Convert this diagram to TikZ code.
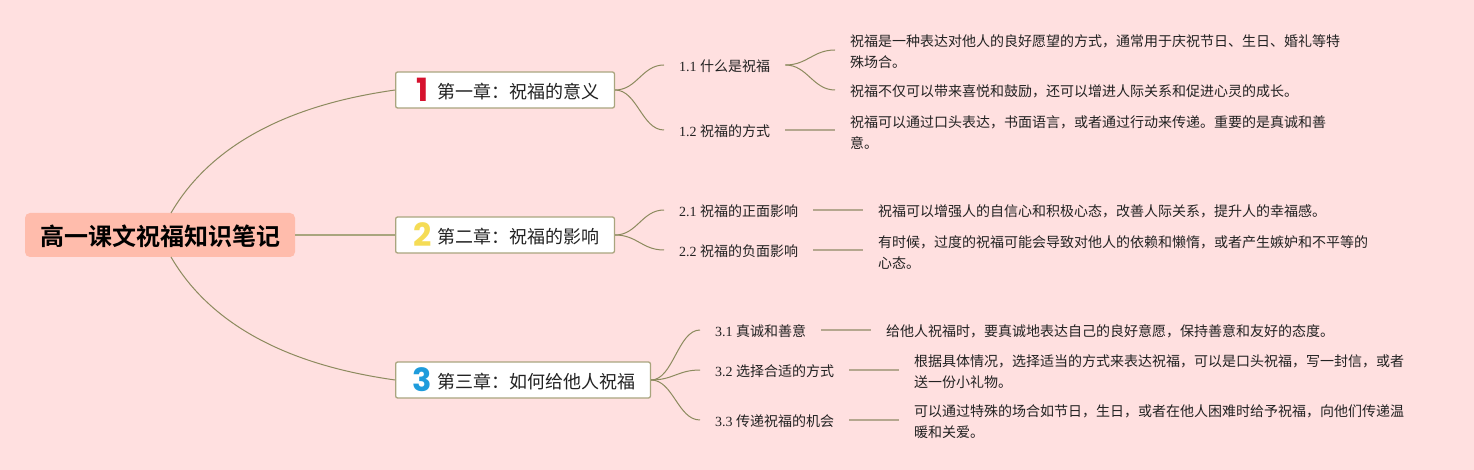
\documentclass[tikz,border=0pt]{standalone}
\usepackage{fontspec}
\setmainfont{Liberation Serif}
\newfontfamily\cjk{Noto Sans CJK SC}
\newfontfamily\cjkbold{Noto Sans CJK SC Bold}
\newfontfamily\numfont{Poppins Bold}

\definecolor{pagebg}{HTML}{FFE0E0}
\definecolor{rootfill}{HTML}{FFBCAC}
\definecolor{boxline}{HTML}{A9A57E}
\definecolor{curveline}{HTML}{8C8A5E}
\definecolor{flatline}{HTML}{B5A78F}
\definecolor{textink}{HTML}{222222}
\definecolor{numred}{HTML}{D6122E}
\definecolor{numyellow}{HTML}{F5DC55}
\definecolor{numblue}{HTML}{1E9CDC}

\tikzstyle{rootbox}=[fill=rootfill,rounded corners=5pt,minimum width=270pt,minimum height=44pt,inner sep=0pt,text height=23pt,font=\fontsize{24}{28}\selectfont\cjkbold]
\tikzstyle{chapter}=[draw=boxline,line width=1.3pt,fill=white,rounded corners=2pt,anchor=west,minimum height=36pt,inner xsep=15.4pt,inner ysep=0pt,text height=19pt,text=textink,font=\fontsize{18}{22}\selectfont\cjk]
\tikzstyle{badge}=[inner sep=0pt,font=\fontsize{32}{32}\selectfont\numfont]
\tikzstyle{topic}=[anchor=west,inner xsep=15pt,inner ysep=2pt,text height=14.5pt,text=textink,font=\fontsize{14}{21}\selectfont]
\tikzstyle{detail}=[anchor=west,align=left,inner xsep=15pt,inner ysep=2pt,text height=14.5pt,text=textink,font=\fontsize{14}{21}\selectfont\cjk]
\tikzstyle{detailtwo}=[detail,text height=37pt]
\tikzstyle{curve}=[draw=curveline,line width=1pt]
\tikzstyle{flat}=[draw=flatline,line width=1.3pt]

\begin{document}
\begin{tikzpicture}[x=1pt,y=-1pt]

   \fill[pagebg] (0,0) rectangle (1474,470);
   \useasboundingbox (0,0) rectangle (1474,470);

   % Root

   \node[rootbox] (root) at (160,235) {\hspace*{1pt}高一课文祝福知识笔记};
   \coordinate (rootup) at (171,213);
   \coordinate (rootdown) at (171,257);

   % Chapter boxes

   \node[chapter] (ch1) at (395,90) {\hspace*{26pt}第一章：祝福的意义};
   \node[chapter] (ch2) at (395,235) {\hspace*{26pt}第二章：祝福的影响};
   \node[chapter] (ch3) at (395,380) {\hspace*{26pt}第三章：如何给他人祝福};

   \node[badge,text=numred] (n1) at (423,90) {1};
   \node[badge,text=numyellow] (n2) at (422.5,235) {2};
   \node[badge,text=numblue] (n3) at (422.5,380) {3};

   % Chapter one

   \node[topic] (t11) at (664,65) {1.1 {\cjk 什么是祝福}};
   \node[topic] (t12) at (664,130) {1.2 {\cjk 祝福的方式}};

   \node[detailtwo] (d111) at (835,50) {祝福是一种表达对他人的良好愿望的方式，通常用于庆祝节日、生日、婚礼等特\\殊场合。};
   \node[detail] (d112) at (835,90) {祝福不仅可以带来喜悦和鼓励，还可以增进人际关系和促进心灵的成长。};
   \node[detailtwo] (d121) at (835,130) {祝福可以通过口头表达，书面语言，或者通过行动来传递。重要的是真诚和善\\意。};

   % Chapter two

   \node[topic] (t21) at (664,210) {2.1 {\cjk 祝福的正面影响}};
   \node[topic] (t22) at (664,250) {2.2 {\cjk 祝福的负面影响}};

   \node[detail] (d211) at (863,210) {祝福可以增强人的自信心和积极心态，改善人际关系，提升人的幸福感。};
   \node[detailtwo] (d221) at (863,250) {有时候，过度的祝福可能会导致对他人的依赖和懒惰，或者产生嫉妒和不平等的\\心态。};

   % Chapter three

   \node[topic] (t31) at (700,330) {3.1 {\cjk 真诚和善意}};
   \node[topic] (t32) at (700,370) {3.2 {\cjk 选择合适的方式}};
   \node[topic] (t33) at (700,420) {3.3 {\cjk 传递祝福的机会}};

   \node[detail] (d311) at (871,330) {给他人祝福时，要真诚地表达自己的良好意愿，保持善意和友好的态度。};
   \node[detailtwo] (d321) at (899,370) {根据具体情况，选择适当的方式来表达祝福，可以是口头祝福，写一封信，或者\\送一份小礼物。};
   \node[detailtwo] (d331) at (899,420) {可以通过特殊的场合如节日，生日，或者在他人困难时给予祝福，向他们传递温\\暖和关爱。};

   % Connectors

   \draw[curve] (rootup) .. controls (225,120) and (340,98) .. (ch1.west);
   \draw[flat,draw=boxline] (root.east) -- (ch2.west);
   \draw[curve] (rootdown) .. controls (225,350) and (340,372) .. (ch3.west);

   \foreach \from/\to in {ch1/t11,ch1/t12,ch2/t21,ch2/t22,ch3/t31,ch3/t32,ch3/t33,t11/d111,t11/d112}
      \draw[curve] (\from.east) .. controls +(22,0) and +(-22,0) .. (\to.west);

   \foreach \from/\to in {t12/d121,t21/d211,t22/d221,t31/d311,t32/d321,t33/d331}
      \draw[flat] (\from.east) -- (\to.west);

\end{tikzpicture}
\end{document}
